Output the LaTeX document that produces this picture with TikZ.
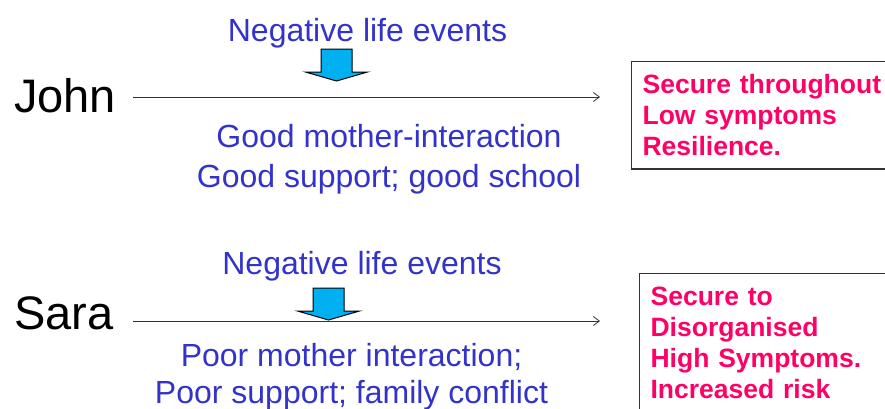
\documentclass[tikz,border=0pt]{standalone}
\usepackage{fontspec}
\setmainfont{Liberation Sans}
\usetikzlibrary{positioning,arrows.meta}
\definecolor{evblue}{RGB}{51,51,204}
\definecolor{outpink}{RGB}{255,0,102}
\definecolor{dropcyan}{RGB}{0,176,240}

\begin{document}
\begin{tikzpicture}[
            x=1pt, y=-1pt,
            person/.style={font=\fontsize{47}{54}\selectfont, anchor=base west, inner sep=0pt},
            event/.style={font=\fontsize{32}{40}\selectfont, text=evblue, anchor=base, inner sep=0pt, align=center},
            outcome/.style={draw=black!80, line width=1.2pt, anchor=north west, align=left,
                font=\fontsize{26.5}{31}\selectfont\bfseries, text=outpink,
                text width=240pt, inner xsep=11pt, inner ysep=13pt},
            timeline/.style={-{Straight Barb[length=6pt,width=9pt]}, line width=0.8pt, black!80},
            blockarrow/.style={fill=dropcyan, draw=black, line width=1pt},
            drop/.pic={\draw[blockarrow] (-15.5,0) -- (15.5,0) -- (15.5,23) -- (31,23)
                -- (0,32) -- (-31,23) -- (-15.5,23) -- cycle;}
        ]
            \useasboundingbox (0,0) rectangle (885,408);
            \clip (0,0) rectangle (885,408);

            % John
            \node[person] (john) at (14,112) {John};
            \node[event] (jevents) at (367.5,41) {Negative life events};
            \pic at (336.5,49) {drop};
            \coordinate (jstart) at (133,97);
            \coordinate (jend) at (600,97);
            \draw[timeline] (jstart) -- (jend);
            \node[event] (jcontext) at (389,187) {Good mother-interaction\\Good support; good school};
            \node[outcome] (jout) at (631,61) {Secure throughout\\Low symptoms\\Resilience.};

            % Sara
            \node[person] (sara) at (14,329) {Sara};
            \node[event] (sevents) at (362,274) {Negative life events};
            \pic at (328.5,288) {drop};
            \coordinate (sstart) at (133,321);
            \coordinate (send) at (600,321);
            \draw[timeline] (sstart) -- (send);
            \node[event, font=\fontsize{32}{37}\selectfont] (scontext) at (351.5,403) {Poor mother interaction;\\Poor support; family conflict};
            \node[outcome] (sout) at (639,273) {Secure to\\Disorganised\\High Symptoms.\\Increased risk};
        \end{tikzpicture}
\end{document}
